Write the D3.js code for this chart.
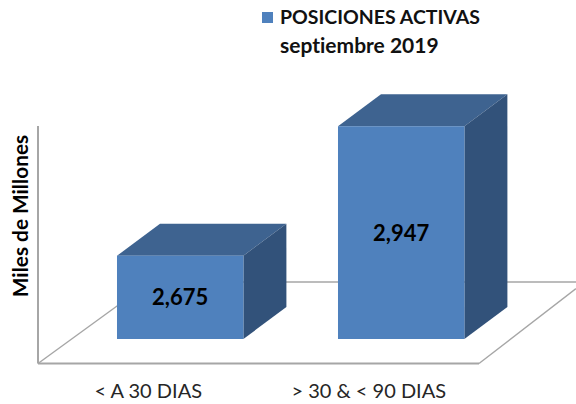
<!DOCTYPE html>
<html><head><meta charset="utf-8">
<script src="https://cdnjs.cloudflare.com/ajax/libs/d3/7.8.5/d3.min.js"></script>
<style>html,body{margin:0;padding:0;background:#fff}svg{display:block}text{font-family:Lato,"Open Sans",sans-serif;font-variant-ligatures:none}</style>
</head><body><div id="c"></div>
<script>
const categories = ["< A 30 DIAS", "> 30 & < 90 DIAS"];
const seriesName = "POSICIONES ACTIVAS";
const seriesSub = "septiembre 2019";
const values = [2675, 2947];
const valueDomain = [2500, 3000];
const yTitle = "Miles de Millones";

const W = 576, H = 404;
const depthX = 43, depthY = 32;
const svg = d3.select("#c").append("svg").attr("width", W).attr("height", H);

const y = d3.scaleLinear().domain(valueDomain).range([339, 101]);
const x = d3.scaleBand().domain(categories).range([69.7, 511.7]).paddingInner(0.428).paddingOuter(0.214);
const xAxisScale = d3.scaleBand().domain(categories).range([38, 479]);

// floor and wall
const gridColor = "#a6a6a6";
const floorY = 363.5, backY = 282;
const lines = [
  [38, floorY, 38, 126, 2],
  [38, floorY, 479, floorY, 2],
  [38, floorY, 150, backY, 1.4],
  [150, backY, 576, backY, 1.4],
  [479, floorY, 576, 288.5, 1.4]
];
svg.append("g").selectAll("line").data(lines).join("line")
  .attr("x1", d => d[0]).attr("y1", d => d[1]).attr("x2", d => d[2]).attr("y2", d => d[3])
  .attr("stroke", gridColor).attr("stroke-width", d => d[4]);

// bars
const bars = svg.append("g").selectAll("g").data(categories.map((c, i) => ({c, v: values[i]}))).join("g");
const path = pts => d3.line()(pts) + "Z";
bars.append("path").attr("fill", "#3e6390").attr("d", d => {
  const l = x(d.c), r = l + x.bandwidth(), t = y(d.v);
  return path([[l, t], [l + depthX, t - depthY], [r + depthX, t - depthY], [r, t]]);
});
bars.append("path").attr("fill", "#32527a").attr("d", d => {
  const r = x(d.c) + x.bandwidth(), t = y(d.v), b = y(valueDomain[0]);
  return path([[r, t], [r + depthX, t - depthY], [r + depthX, b - depthY], [r, b]]);
});
bars.append("rect").attr("fill", "#4f81bd")
  .attr("x", d => x(d.c)).attr("y", d => y(d.v))
  .attr("width", x.bandwidth()).attr("height", d => y(valueDomain[0]) - y(d.v));
bars.append("text")
  .attr("x", d => x(d.c) + x.bandwidth() / 2)
  .attr("y", d => (y(d.v) + y(valueDomain[0])) / 2 + 8)
  .attr("text-anchor", "middle").attr("font-size", 22).attr("font-weight", 700).attr("fill", "#000")
  .text(d => d3.format(",")(d.v));

// category axis
const ax = svg.append("g").attr("transform", "translate(0,380)")
  .call(d3.axisBottom(xAxisScale).tickSize(0).tickPadding(4));
ax.select(".domain").remove();
ax.selectAll("text").attr("font-size", 20).attr("fill", "#262626").style("font-family", "Lato");

// y title
svg.append("text").attr("transform", "translate(28,216) rotate(-90)")
  .attr("text-anchor", "middle").attr("font-size", 20.8).attr("font-weight", 700).attr("fill", "#000").text(yTitle);

// legend
svg.append("rect").attr("x", 262).attr("y", 12).attr("width", 11).attr("height", 11).attr("fill", "#4f81bd");
svg.append("text").attr("x", 280).attr("y", 24).attr("font-size", 19.5).attr("font-weight", 700).attr("fill", "#111").text(seriesName);
svg.append("text").attr("x", 280).attr("y", 53).attr("font-size", 21).attr("font-weight", 700).attr("fill", "#111").text(seriesSub);
</script></body></html>
